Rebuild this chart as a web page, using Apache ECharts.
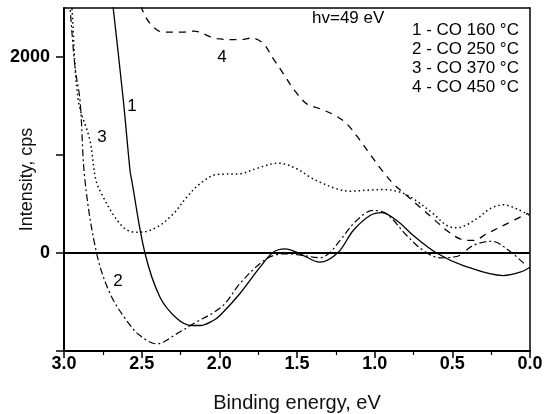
<!DOCTYPE html>
<html>
<head>
<meta charset="utf-8">
<script src="https://cdn.jsdelivr.net/npm/echarts@6/dist/echarts.min.js"></script>
<style>
  html, body { margin: 0; padding: 0; background: #fff; }
  #chart { width: 544px; height: 414px; }
</style>
</head>
<body>
<div id="chart"></div>
<script>
  // values (binding energy in eV, intensity in cps)
  const energy1 = [2.72, 2.683, 2.618, 2.575, 2.564, 2.479, 2.382, 2.275, 2.178, 2.124, 2.039, 1.996, 1.867, 1.738, 1.653, 1.577, 1.481, 1.352, 1.234, 1.138, 1.030, 0.955, 0.858, 0.751, 0.601, 0.429, 0.172, 0.064, 0.0];
  const intensity1 = [3030, 2496, 1557, 842, 740, 0, -451, -665, -740, -740, -689, -638, -413, -145, 8, 43, -8, -94, 8, 230, 383, 413, 332, 179, 0, -128, -230, -196, -145];

  const energy2 = [2.99, 2.961, 2.929, 2.897, 2.865, 2.790, 2.704, 2.597, 2.511, 2.403, 2.275, 2.168, 1.983, 1.867, 1.738, 1.653, 1.566, 1.459, 1.352, 1.288, 1.223, 1.116, 1.009, 0.923, 0.794, 0.687, 0.579, 0.472, 0.365, 0.247, 0.150, 0.032];
  const intensity2 = [3040, 2496, 1897, 1557, 740, -2, -413, -689, -842, -927, -825, -723, -546, -311, -107, -26, -8, -26, -49, 5, 128, 332, 434, 400, 179, 26, -49, -36, 77, 120, 43, -117];

  const energy3 = [2.975, 2.949, 2.908, 2.833, 2.794, 2.747, 2.672, 2.597, 2.511, 2.403, 2.296, 2.210, 2.124, 2.017, 1.867, 1.751, 1.620, 1.502, 1.416, 1.352, 1.244, 1.159, 1.030, 0.944, 0.837, 0.751, 0.622, 0.536, 0.472, 0.343, 0.258, 0.172, 0.086, 0.0];
  const intensity3 = [3090, 2496, 1557, 1149, 740, 570, 366, 237, 212, 263, 400, 570, 707, 801, 809, 868, 917, 860, 774, 723, 655, 631, 643, 648, 621, 553, 400, 281, 257, 349, 451, 492, 451, 383];

  const energy4 = [2.53, 2.490, 2.435, 2.361, 2.232, 2.168, 2.017, 1.867, 1.792, 1.717, 1.653, 1.588, 1.524, 1.438, 1.352, 1.255, 1.180, 1.094, 1.009, 0.944, 0.880, 0.794, 0.708, 0.622, 0.536, 0.451, 0.365, 0.279, 0.150, 0.011];
  const intensity4 = [2650, 2459, 2323, 2254, 2254, 2265, 2187, 2177, 2193, 2136, 1983, 1830, 1676, 1523, 1472, 1404, 1319, 1149, 962, 825, 707, 587, 468, 349, 230, 145, 128, 196, 298, 406];

  const yLabelValues = [0, 2000];
  const legendLines = ['1 - CO 160 °C', '2 - CO 250 °C', '3 - CO 370 °C', '4 - CO 450 °C'];

  const FONT = '"Liberation Sans", Arial, sans-serif';
  const zip = (xs, ys) => xs.map((x, i) => [x, ys[i]]);

  const chart = echarts.init(document.getElementById('chart'));

  const lineSeries = (name, xs, ys, type, width) => ({
    name: name,
    type: 'line',
    data: zip(xs, ys),
    smooth: 0.35,
    showSymbol: false,
    symbol: 'none',
    silent: true,
    lineStyle: { color: '#000', width: width, type: type },
    z: 3
  });

  // frame axes (top / right): line only
  const frameAxis = {
    type: 'value',
    axisLine: { show: true, onZero: false, lineStyle: { color: '#000', width: 1.5 } },
    axisTick: { show: false },
    axisLabel: { show: false },
    splitLine: { show: false }
  };

  const option = {
    animation: false,
    backgroundColor: '#fff',
    grid: {
      left: 64, right: 14, top: 8, bottom: 63,
      outerBoundsMode: 'none',
      containLabel: false,
      show: false
    },
    xAxis: [
      {
        type: 'value',
        inverse: true,
        min: 0, max: 3, interval: 0.5,
        position: 'bottom',
        name: 'Binding energy, eV',
        nameLocation: 'middle',
        nameGap: 42,
        nameMoveOverlap: false,
        nameTextStyle: { fontFamily: FONT, fontSize: 20, color: '#111' },
        axisLine: { show: true, onZero: false, lineStyle: { color: '#000', width: 2 } },
        axisTick: { show: true, inside: false, length: 7, lineStyle: { color: '#000', width: 1.5 } },
        minorTick: { show: true, splitNumber: 2, length: 4, lineStyle: { color: '#000', width: 1.2 } },
        axisLabel: {
          margin: 4, fontFamily: FONT, fontSize: 18, fontWeight: 'bold', color: '#000',
          formatter: (v) => v.toFixed(1)
        },
        splitLine: { show: false },
        z: 5
      },
      Object.assign({}, frameAxis, { position: 'top', inverse: true, min: 0, max: 3 })
    ],
    yAxis: [
      {
        type: 'value',
        min: -1000, max: 2500, interval: 1000,
        position: 'left',
        name: 'Intensity, cps',
        nameLocation: 'middle',
        nameGap: 28,
        nameMoveOverlap: false,
        nameTextStyle: { fontFamily: FONT, fontSize: 18, color: '#111' },
        axisLine: { show: true, onZero: false, lineStyle: { color: '#000', width: 2 } },
        axisTick: { show: true, inside: false, length: 8, lineStyle: { color: '#000', width: 1.5 } },
        axisLabel: {
          margin: 14, fontFamily: FONT, fontSize: 18, fontWeight: 'bold', color: '#000',
          showMaxLabel: false,
          formatter: (v) => (yLabelValues.indexOf(v) >= 0 ? String(v) : '')
        },
        splitLine: { show: false },
        z: 5
      },
      Object.assign({}, frameAxis, { position: 'right', min: -1000, max: 2500 })
    ],
    series: [
      Object.assign(lineSeries('1', energy1, intensity1, 'solid', 1.3), {
        markLine: {
          silent: true,
          symbol: 'none',
          label: { show: false },
          lineStyle: { color: '#000', width: 2, type: 'solid' },
          data: [{ yAxis: 0 }]
        }
      }),
      lineSeries('2', energy2, intensity2, [7, 3, 2, 3], 1.2),
      lineSeries('3', energy3, intensity3, [1.5, 3], 1.5),
      lineSeries('4', energy4, intensity4, [7, 6], 1.3)
    ],
    graphic: [
      { type: 'text', x: 312, y: 18, style: { text: 'hv=49 eV', font: '17px ' + FONT, fill: '#000', textVerticalAlign: 'middle' } },
      ...legendLines.map((t, i) => ({
        type: 'text', x: 412, y: 30 + i * 19,
        style: { text: t, font: '17px ' + FONT, fill: '#000', textVerticalAlign: 'middle' }
      })),
      { type: 'text', x: 132, y: 106, style: { text: '1', font: '17px ' + FONT, fill: '#000', textAlign: 'center', textVerticalAlign: 'middle' } },
      { type: 'text', x: 118, y: 281, style: { text: '2', font: '17px ' + FONT, fill: '#000', textAlign: 'center', textVerticalAlign: 'middle' } },
      { type: 'text', x: 102, y: 137, style: { text: '3', font: '17px ' + FONT, fill: '#000', textAlign: 'center', textVerticalAlign: 'middle' } },
      { type: 'text', x: 222, y: 57, style: { text: '4', font: '17px ' + FONT, fill: '#000', textAlign: 'center', textVerticalAlign: 'middle' } }
    ]
  };

  chart.setOption(option);
</script>
</body>
</html>
